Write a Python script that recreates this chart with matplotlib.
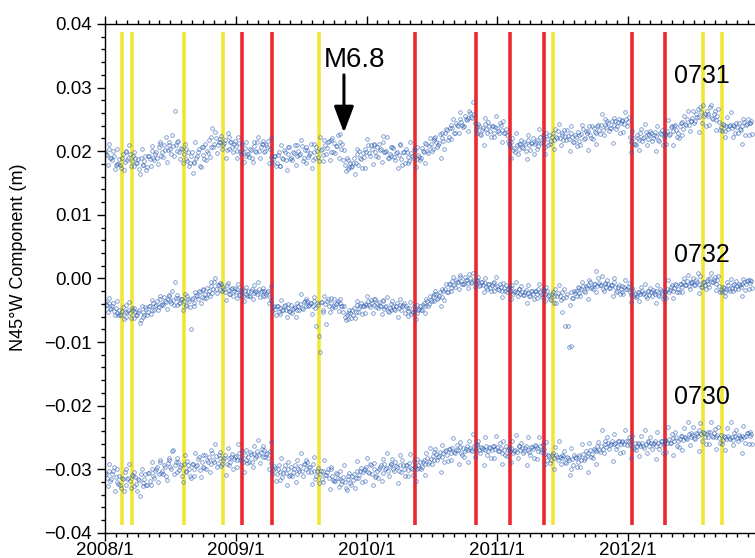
import numpy as np
import matplotlib
matplotlib.use('Agg')
import matplotlib.pyplot as plt
from matplotlib.ticker import FixedLocator, FuncFormatter, MultipleLocator

plt.rcParams['font.family'] = ['Liberation Sans', 'DejaVu Sans']

# GPS solutions, every 5 days from 2008/1 (values in mm)
sta_0731 = [
    19.9, 19.4, 20.3, 19.0, 18.6, 19.3, 17.9, 18.0, 18.8, 17.4, 19.5, 18.3, 19.9, 19.0,
    19.6, 18.4, 17.6, 19.0, 18.1, 17.2, 18.9, 17.8, 18.5, 17.1, 19.3, 18.7, 20.1, 18.9, 19.6,
    19.0, 20.7, 21.5, 19.8, 20.9, 22.3, 20.2, 21.0, 19.6, 20.8, 26.3, 20.1, 21.6, 18.8, 20.4,
    19.5, 20.3, 18.4, 17.6, 19.2, 16.5, 18.3, 18.9, 19.8, 17.7, 20.6, 19.4, 21.2, 20.0,
    21.8, 20.6, 23.6, 21.2, 22.0, 20.9, 21.5, 22.4, 21.0, 21.7, 20.2, 22.3, 21.4, 20.6, 21.2,
    # 2009
    20.8, 20.1, 21.3, 19.6, 19.9, 20.5, 19.2, 19.5, 20.4, 19.0, 20.8, 20.1, 21.4, 20.0,
    20.6, 21.2, 19.9, 20.9, 21.6, 20.3, 19.1, 18.7, 19.3, 18.2, 19.8, 17.7, 19.0, 20.2, 18.6,
    19.5, 20.6, 18.9, 19.8, 21.0, 19.2, 20.1, 19.6, 20.8, 19.0, 18.1, 20.2, 19.4, 21.1, 18.6,
    19.8, 20.7, 19.1, 22.2, 20.3, 19.4, 20.9, 20.5, 21.6, 19.8, 22.0, 21.3, 20.8, 22.6,
    21.5, 20.3, 18.6, 17.8, 19.0, 17.2, 18.1, 17.6, 18.9, 18.2, 19.6, 20.1, 18.8, 19.7, 20.3,
    # 2010
    19.8, 20.9, 19.3, 20.4, 21.0, 19.9, 20.6, 21.2, 20.3, 22.4, 19.8, 20.1, 18.9, 19.6,
    19.2, 20.5, 18.6, 19.9, 19.4, 21.0, 17.8, 19.8, 20.3, 19.1, 18.4, 19.7, 19.0, 20.2, 18.8,
    19.4, 18.6, 20.5, 19.9, 21.3, 20.1, 20.8, 21.2, 20.4, 22.0, 21.5, 20.9, 22.7, 22.1, 21.6,
    22.8, 23.4, 22.3, 24.1, 23.6, 22.9, 24.5, 24.0, 25.1, 24.6, 23.8, 25.6, 24.9, 25.3,
    26.0, 25.2, 25.8, 23.4, 22.8, 23.9, 22.6, 23.7, 24.3, 23.5, 24.6, 23.2, 24.0, 22.9, 23.8,
    # 2011
    23.6, 22.8, 24.1, 23.3, 22.9, 23.5, 21.6, 20.8, 21.4, 20.2, 19.9, 21.0, 20.4, 21.2,
    20.6, 21.5, 20.1, 21.8, 20.9, 21.3, 22.0, 21.1, 21.7, 20.8, 22.3, 21.4, 22.0, 20.6, 21.9,
    22.5, 21.6, 22.9, 21.8, 22.3, 23.1, 22.0, 22.6, 21.7, 22.4, 23.3, 21.9, 22.8, 22.2, 21.5,
    22.3, 23.0, 21.6, 22.7, 23.5, 22.1, 22.9, 23.2, 22.5, 24.0, 23.6, 22.8, 23.9, 23.3,
    24.1, 23.4, 25.0, 23.8, 24.5, 23.6, 24.7, 24.2, 24.8, 24.0, 25.1, 24.4, 24.9, 24.3, 25.0,
    # 2012
    24.6, 22.3, 21.5, 22.0, 21.2, 22.6, 21.8, 22.9, 21.6, 22.3, 23.0, 21.9, 22.5, 22.8,
    22.1, 23.0, 22.4, 21.7, 22.8, 23.3, 22.2, 22.6, 23.1, 22.5, 23.8, 23.2, 24.0, 23.4, 22.9,
    23.9, 24.6, 23.5, 24.3, 25.0, 24.1, 24.8, 25.2, 24.5, 25.9, 26.6, 25.4, 26.1, 27.2, 25.8,
    26.4, 25.6, 26.9, 25.2, 25.8, 24.9, 25.5, 24.6, 23.8, 24.3, 23.2, 24.0, 23.5, 24.1,
    23.6, 24.2, 22.9, 23.8, 24.5, 23.3, 24.0, 24.6, 24.2, 25.0, 24.4, 24.8,
]
# solutions in between (2.5 days later)
sta_0731_b = [
    19.6, 17.9, 21.1, 18.9, 20.1, 17.2, 20.4, 18.0, 17.8, 18.9, 17.0, 20.1, 18.6, 20.9,
    17.6, 19.3, 19.8, 18.2, 18.8, 16.4, 20.3, 17.9, 19.2, 17.5, 19.3, 17.6, 20.8, 18.6, 19.8,
    18.0, 21.2, 19.3, 19.1, 20.2, 18.3, 21.4, 20.3, 22.6, 19.3, 21.0, 21.5, 19.9, 20.5, 18.1,
    21.1, 18.7, 19.8, 18.1, 19.9, 18.2, 21.4, 19.2, 20.4, 17.5, 20.7, 18.8, 18.6, 19.7,
    19.1, 22.2, 20.7, 23.0, 19.7, 21.4, 21.9, 20.3, 21.3, 18.9, 22.8, 20.4, 21.5, 19.8, 21.6,
    # 2009
    19.0, 22.2, 20.0, 21.2, 18.3, 21.5, 19.6, 19.1, 20.2, 18.3, 21.4, 19.9, 22.2, 18.9,
    21.1, 21.6, 20.0, 20.6, 18.2, 22.1, 18.2, 19.3, 17.6, 19.4, 17.7, 20.9, 18.7, 19.9, 17.0,
    20.7, 18.8, 18.6, 19.7, 17.8, 20.9, 19.4, 21.8, 18.5, 20.2, 20.7, 19.1, 19.7, 17.3, 21.2,
    19.0, 20.1, 18.4, 20.2, 18.5, 21.7, 19.5, 21.5, 18.6, 21.8, 19.9, 19.7, 20.8, 18.9,
    22.7, 21.2, 20.2, 16.9, 18.6, 17.5, 17.5, 18.1, 16.4, 20.3, 17.9, 19.0, 17.3, 19.1, 17.4,
    # 2010
    21.9, 19.7, 20.9, 18.0, 21.2, 19.3, 19.1, 20.2, 18.3, 21.4, 19.9, 22.2, 18.9, 20.6,
    20.7, 19.1, 19.7, 17.3, 21.2, 18.8, 19.9, 18.2, 19.9, 18.2, 21.4, 19.2, 20.4, 17.5, 20.7,
    19.1, 18.9, 20.0, 18.1, 21.2, 19.7, 22.0, 20.1, 21.8, 22.3, 20.7, 21.3, 18.9, 22.8, 20.4,
    23.5, 21.8, 23.6, 21.9, 25.1, 22.9, 24.1, 22.9, 26.1, 24.2, 24.0, 25.1, 23.2, 26.3,
    25.4, 27.7, 24.4, 23.8, 24.3, 22.7, 23.3, 20.9, 25.2, 22.8, 23.9, 22.2, 24.0, 22.3, 25.5,
    # 2011
    23.2, 24.4, 21.5, 24.7, 22.8, 22.6, 21.2, 18.9, 22.0, 20.5, 22.8, 19.5, 21.2, 21.7,
    20.5, 21.1, 18.7, 22.6, 20.2, 21.3, 19.6, 21.4, 20.3, 23.5, 21.3, 22.5, 19.6, 22.8, 20.9,
    21.2, 22.3, 20.4, 23.5, 22.0, 24.3, 21.0, 22.9, 23.4, 21.8, 22.4, 20.0, 23.9, 21.5, 22.6,
    20.8, 22.6, 20.9, 24.1, 21.9, 23.1, 20.2, 24.0, 22.1, 21.9, 23.0, 21.1, 24.2, 22.7,
    25.8, 22.5, 24.2, 24.7, 23.1, 23.7, 21.3, 25.2, 23.5, 24.6, 22.9, 24.7, 23.0, 26.2, 24.0,
    # 2012
    25.4, 19.9, 23.1, 21.2, 21.0, 22.1, 20.2, 23.5, 22.0, 24.3, 21.0, 22.7, 23.2, 21.6,
    22.5, 20.1, 24.0, 21.6, 22.7, 21.0, 22.8, 21.1, 24.9, 22.7, 23.9, 21.0, 24.2, 22.3, 22.1,
    24.4, 22.5, 25.6, 24.1, 26.4, 23.1, 24.8, 26.4, 24.8, 25.4, 23.0, 26.9, 24.5, 25.6, 23.9,
    25.8, 24.1, 27.3, 25.1, 26.3, 23.4, 26.6, 23.3, 23.1, 24.2, 22.3, 25.4, 23.9, 26.2,
    22.3, 24.0, 24.5, 22.9, 23.5, 21.1, 25.0, 22.6, 24.3, 22.6, 24.4, 22.7,
]

sta_0732 = [
    -3.6, -4.2, -3.9, -4.8, -4.3, -5.1, -4.6, -5.4, -4.9, -5.8, -4.5, -5.3, -6.0, -5.0,
    -5.5, -4.7, -6.2, -5.3, -5.8, -4.9, -6.6, -5.2, -5.7, -4.8, -5.2, -4.4, -4.9, -3.8, -4.3,
    -3.6, -4.5, -3.2, -4.0, -2.9, -3.7, -3.3, -2.8, -3.9, -3.4, -0.5, -4.1, -3.0, -3.8, -3.2,
    -3.5, -4.4, -2.7, -3.6, -8.0, -3.1, -3.9, -2.6, -3.3, -2.2, -2.9, -1.8, -2.5, -1.5,
    -1.9, -1.2, -2.3, -0.6, -1.6, -1.0, -1.8, -0.9, -1.4, -2.1, -1.1, -1.8, -2.4, -1.5, -2.0,
    # 2009
    -2.2, -1.6, -2.6, -2.0, -2.8, -1.9, -2.4, -2.0, -2.7, -1.7, -2.3, -1.9, -2.5, -1.6,
    -2.1, -2.8, -1.9, -2.4, -2.0, -2.9, -3.6, -4.5, -4.8, -4.3, -5.2, -4.6, -5.0, -4.4, -4.9,
    -4.7, -5.1, -4.2, -4.8, -4.5, -5.0, -4.3, -4.0, -4.6, -3.7, -4.3, -3.5, -4.1, -3.8, -4.4,
    -3.6, -7.4, -4.2, -11.5, -3.7, -5.3, -4.0, -3.5, -4.3, -3.8, -4.6, -3.2, -4.0, -3.6,
    -3.9, -4.4, -5.3, -6.1, -5.7, -6.4, -5.5, -5.0, -4.6, -5.2, -4.1, -4.7, -3.9, -4.4, -4.0,
    # 2010
    -4.2, -3.6, -4.5, -3.8, -4.1, -3.3, -3.9, -3.7, -4.3, -3.5, -4.8, -4.4, -5.1, -4.6,
    -5.0, -4.4, -4.9, -3.9, -4.6, -4.1, -4.4, -3.8, -4.3, -5.1, -4.7, -5.6, -5.2, -4.8, -5.4,
    -4.9, -4.3, -5.0, -3.8, -4.4, -3.6, -4.0, -3.4, -2.8, -3.6, -2.5, -3.0, -2.2, -2.9, -1.9,
    -1.6, -2.2, -0.9, -1.5, -0.4, -1.1, -0.2, -0.6, 0.2, -0.4, -0.9, 0.3, -0.3, -0.7,
    0.1, -0.5, -0.2, -0.9, -0.4, -1.2, -0.6, -1.0, -0.7, -1.3, -0.8, -1.5, -1.1, -0.6, -1.4,
    # 2011
    -1.2, -1.8, -1.4, -2.0, -1.5, -1.1, -1.7, -2.0, -1.5, -2.4, -1.9, -2.2, -1.6, -2.5,
    -2.1, -2.6, -1.8, -2.3, -2.7, -1.9, -2.4, -2.0, -2.5, -1.7, -2.2, -2.9, -1.8, -2.4, -2.0,
    -2.6, -3.4, -2.1, -2.8, -3.9, -2.3, -2.7, -5.2, -3.0, -7.5, -2.4, -10.8, -2.2, -3.1, -1.9,
    -2.0, -1.4, -2.3, -1.6, -1.2, -2.1, -1.5, -1.1, -0.6, -1.4, -0.8, 1.1, -1.2, -0.7,
    -1.0, -1.6, -0.8, -1.3, -0.9, -1.5, -1.1, -0.6, -1.3, -1.9, -1.0, -1.6, -2.2, -1.4, -1.7,
    # 2012
    -1.4, -2.1, -2.6, -1.9, -2.4, -2.8, -2.2, -2.5, -1.9, -2.3, -2.7, -2.0, -2.6, -2.2,
    -1.8, -2.4, -2.0, -2.6, -1.7, -2.3, -2.9, -2.1, -1.6, -2.2, -1.3, -1.9, -1.5, -1.1, -1.7,
    -0.9, -1.4, -0.6, -1.0, -0.4, -1.2, -0.7, -0.5, -1.1, -0.3, 0.9, -0.8, -1.4, -0.6, -1.0,
    -0.4, -0.9, 0.1, -0.5, -0.2, -0.8, -0.3, -1.2, -1.8, -1.4, -2.1, -1.6, -1.1, -1.9,
    -1.5, -1.0, -1.7, -1.2, -0.8, -1.4, -0.9, -0.6, -0.8, -0.3, -0.7, -0.4,
]
sta_0732_b = [
    -4.1, -5.3, -3.1, -4.6, -3.8, -5.8, -3.6, -5.7, -5.8, -5.1, -6.4, -4.2, -5.3, -3.7,
    -6.2, -5.0, -4.6, -5.8, -5.3, -7.0, -4.3, -6.0, -4.5, -5.7, -4.4, -5.6, -3.4, -4.9, -4.1,
    -5.0, -2.8, -4.1, -4.2, -3.5, -4.8, -2.6, -3.5, -1.9, -4.2, -3.0, -2.6, -3.8, -3.3, -5.0,
    -2.4, -4.1, -3.3, -4.5, -3.2, -4.4, -2.2, -2.7, -1.9, -3.9, -1.7, -3.0, -3.1, -2.4,
    -2.7, -0.5, -1.6, 0.0, -2.3, -1.1, -0.7, -1.9, -1.7, -3.4, -0.7, -2.4, -1.6, -2.8, -1.5,
    # 2009
    -3.1, -0.9, -2.4, -1.6, -3.6, -1.4, -2.7, -2.7, -2.0, -3.3, -1.1, -2.2, -0.6, -2.9,
    -1.9, -1.5, -2.7, -2.2, -3.9, -1.2, -5.1, -4.3, -5.7, -4.4, -5.6, -3.4, -4.9, -4.1, -6.1,
    -4.0, -5.3, -5.4, -4.7, -6.0, -3.8, -4.9, -2.5, -4.8, -3.6, -3.2, -4.4, -3.9, -5.6, -2.9,
    -4.6, -3.8, -9.0, -3.7, -4.9, -2.7, -7.2, -3.3, -5.3, -3.1, -4.4, -4.5, -3.8, -5.1,
    -3.2, -4.3, -4.3, -6.6, -5.4, -5.0, -6.2, -5.7, -6.2, -3.5, -5.2, -4.4, -5.6, -4.3, -5.5,
    # 2010
    -2.7, -4.2, -3.4, -5.4, -3.2, -4.5, -4.6, -4.3, -5.6, -3.4, -4.5, -2.9, -5.2, -4.0,
    -3.6, -4.8, -4.3, -6.0, -3.3, -5.0, -4.2, -5.4, -4.7, -5.9, -3.7, -5.2, -4.4, -6.4, -4.2,
    -4.8, -4.9, -4.2, -5.5, -3.3, -4.4, -2.8, -3.6, -2.4, -2.0, -3.2, -2.7, -4.4, -1.7, -3.4,
    -0.9, -2.1, -0.8, -2.0, 0.2, -1.3, -0.5, -1.7, 0.5, -0.8, -0.9, -0.2, -1.5, 0.7,
    -0.7, 0.9, -1.4, -0.2, 0.2, -1.0, -0.5, -2.2, 0.1, -1.6, -0.8, -2.0, -0.7, -1.9, 0.3,
    # 2011
    -1.7, -0.9, -2.9, -0.7, -2.0, -2.1, -1.4, -3.2, -1.0, -2.1, -0.5, -2.8, -1.6, -1.2,
    -2.6, -2.1, -3.8, -1.1, -2.8, -2.0, -3.2, -1.9, -3.1, -0.9, -2.4, -1.6, -3.6, -1.4, -2.7,
    -3.2, -2.5, -3.8, -1.6, -2.7, -1.1, -3.4, -2.1, -1.7, -2.9, -7.5, -4.1, -10.6, -3.1, -2.3,
    -2.8, -1.5, -2.7, -0.5, -2.0, -1.2, -3.2, -0.2, -1.5, -1.6, -0.9, -2.2, 0.0, -1.1,
    0.4, -1.9, -0.7, -0.3, -1.5, -1.0, -2.7, 0.0, -2.1, -1.3, -2.5, -1.2, -2.4, -0.2, -1.7,
    # 2012
    -0.7, -3.7, -1.5, -2.8, -2.9, -2.2, -3.5, -1.3, -2.4, -0.8, -3.1, -1.9, -1.5, -2.7,
    -2.1, -3.8, -1.1, -2.8, -2.0, -3.2, -1.9, -3.1, -0.3, -1.8, -1.0, -3.0, -0.8, -2.1, -2.2,
    -0.8, -2.1, 0.1, -1.0, 0.6, -1.7, -0.5, 0.1, -1.1, -0.6, -2.3, 0.4, -1.3, -0.5, -1.7,
    -0.1, -1.3, 0.9, -0.6, 0.2, -1.8, 0.4, -2.1, -2.2, -1.5, -2.8, -0.6, -1.7, -0.1,
    -2.0, -0.8, -0.4, -1.6, -1.1, -2.8, -0.1, -1.8, -0.4, -1.6, -0.3, -1.5,
]

sta_0730 = [
    -30.6, -31.4, -30.2, -31.9, -30.8, -29.7, -31.2, -32.0, -31.1, -33.0, -31.6, -30.4, -32.5, -31.3,
    -31.8, -30.9, -32.6, -31.2, -33.4, -31.7, -30.8, -32.2, -31.5, -32.4, -30.6, -31.9, -29.9, -31.0, -30.3,
    -29.7, -30.8, -28.9, -30.2, -29.4, -31.1, -29.0, -28.6, -29.9, -27.0, -29.4, -30.5, -28.8, -29.7, -31.0,
    -29.2, -30.3, -28.7, -29.9, -31.4, -29.1, -30.0, -29.5, -28.4, -30.1, -28.9, -29.7, -27.8, -28.6,
    -28.1, -29.2, -27.5, -28.8, -27.9, -29.0, -28.3, -29.5, -28.6, -27.7, -29.1, -28.2, -28.9, -27.6, -28.4,
    # 2009
    -27.9, -28.6, -27.4, -28.3, -28.9, -27.7, -28.5, -28.0, -27.3, -28.8, -27.6, -28.2, -27.1, -27.8,
    -27.4, -28.1, -26.9, -27.6, -28.3, -27.2, -29.0, -30.1, -29.8, -30.7, -29.3, -30.4, -31.2, -29.9, -30.6,
    -30.0, -31.0, -29.6, -30.5, -29.3, -30.8, -29.9, -29.5, -30.3, -29.1, -30.0, -28.8, -29.7, -30.4, -29.2,
    -30.2, -31.1, -29.8, -30.7, -31.5, -30.3, -30.9, -30.5, -31.3, -30.0, -31.0, -31.8, -30.6, -31.4,
    -31.6, -32.3, -31.2, -32.0, -33.2, -31.5, -32.1, -31.0, -30.7, -31.4, -30.3, -30.9, -29.8, -30.5, -29.9,
    # 2010
    -29.6, -30.4, -29.2, -30.8, -29.9, -31.2, -30.3, -30.0, -29.4, -30.6, -29.1, -29.8, -30.3, -29.5,
    -29.2, -30.0, -28.8, -29.6, -30.3, -29.4, -28.6, -29.9, -29.3, -30.1, -29.0, -29.8, -30.9, -29.5, -29.9,
    -29.4, -28.8, -29.7, -28.5, -29.1, -28.2, -28.9, -28.4, -27.9, -28.6, -27.6, -28.1, -27.3, -28.0, -27.5,
    -27.1, -27.8, -26.8, -27.5, -26.6, -27.3, -26.9, -27.0, -26.5, -27.4, -26.7, -27.2, -26.3, -26.9,
    -26.6, -27.1, -26.4, -26.9, -26.2, -27.0, -26.5, -26.8, -26.9, -26.4, -27.2, -26.6, -27.0, -26.3, -26.8,
    # 2011
    -26.5, -27.1, -26.7, -27.4, -26.9, -26.3, -27.0, -27.2, -26.6, -27.5, -26.9, -27.3, -26.4, -27.0,
    -26.7, -27.2, -26.4, -26.9, -27.3, -26.5, -26.8, -26.2, -26.6, -27.1, -26.4, -27.0, -26.8, -27.6, -28.5,
    -27.9, -28.6, -27.5, -28.2, -27.8, -28.5, -28.0, -28.3, -27.9, -28.8, -28.1, -28.6, -29.9, -28.4, -27.7,
    -28.2, -28.8, -28.0, -28.5, -27.6, -28.3, -27.9, -27.4, -26.9, -27.6, -26.8, -27.2, -26.4, -26.9,
    -26.3, -26.8, -26.0, -26.5, -25.8, -26.2, -25.6, -26.0, -25.8, -26.3, -25.6, -26.1, -25.7, -26.0, -25.5,
    # 2012
    -25.6, -26.2, -25.4, -26.5, -25.9, -26.3, -26.0, -26.4, -25.8, -26.7, -26.1, -25.7, -26.3, -25.9,
    -26.1, -25.5, -26.4, -25.8, -26.2, -25.6, -26.0, -25.4, -25.8, -25.3, -25.9, -25.1, -25.6, -25.0, -25.5,
    -25.2, -24.7, -25.4, -24.9, -25.3, -24.5, -25.0, -24.6, -25.1, -24.3, -24.8, -23.9, -24.5, -24.2, -24.9,
    -24.4, -24.9, -24.1, -24.7, -24.3, -25.0, -24.6, -25.1, -24.6, -25.4, -24.9, -25.3, -24.8, -25.2,
    -24.9, -25.4, -24.7, -25.1, -24.6, -25.3, -24.8, -25.0, -24.7, -24.3, -24.8, -24.5,
]
sta_0730_b = [
    -30.8, -32.6, -29.1, -31.5, -30.2, -33.4, -29.9, -32.3, -32.5, -31.3, -33.4, -30.0, -31.6, -29.1,
    -32.9, -31.0, -30.5, -32.3, -31.6, -34.2, -29.9, -32.6, -30.7, -32.5, -30.6, -32.4, -28.9, -31.3, -30.0,
    -32.0, -28.5, -30.6, -30.8, -29.6, -31.7, -28.3, -29.6, -27.1, -30.7, -28.8, -28.3, -30.1, -29.4, -32.0,
    -27.8, -30.5, -29.3, -31.1, -29.2, -31.0, -27.5, -29.3, -28.0, -31.2, -27.7, -29.8, -30.0, -28.8,
    -30.4, -27.0, -28.6, -26.1, -29.7, -27.8, -27.3, -29.1, -28.3, -30.9, -26.6, -29.3, -28.1, -29.9, -28.0,
    # 2009
    -29.6, -26.1, -28.5, -27.2, -30.4, -26.9, -29.0, -28.8, -27.6, -29.7, -26.3, -27.9, -25.4, -29.0,
    -26.8, -26.3, -28.1, -27.4, -30.0, -25.7, -30.7, -29.5, -31.8, -29.9, -31.7, -28.2, -30.6, -29.3, -32.5,
    -28.8, -30.9, -31.1, -29.9, -32.0, -28.6, -30.2, -27.4, -31.0, -29.1, -28.6, -30.4, -29.7, -32.3, -28.0,
    -31.5, -30.3, -32.1, -30.2, -32.0, -28.5, -30.9, -29.9, -33.1, -29.6, -31.7, -31.9, -30.7, -32.8,
    -30.3, -31.9, -29.4, -33.0, -31.1, -30.6, -32.4, -31.7, -33.0, -28.7, -31.4, -30.2, -32.0, -30.1, -31.9,
    # 2010
    -28.2, -30.6, -29.3, -32.5, -29.0, -31.1, -31.3, -29.7, -31.8, -28.4, -30.0, -27.5, -31.1, -29.2,
    -28.4, -30.2, -29.5, -32.1, -27.8, -30.5, -29.3, -31.1, -29.3, -31.1, -27.6, -30.0, -28.7, -31.9, -28.4,
    -29.8, -30.0, -28.8, -30.9, -27.5, -29.1, -26.6, -29.2, -27.3, -26.8, -28.6, -27.9, -30.5, -26.2, -28.9,
    -26.9, -28.7, -26.8, -28.6, -25.1, -27.5, -26.2, -29.2, -25.7, -27.8, -28.0, -26.8, -28.9, -25.5,
    -26.9, -24.4, -28.0, -26.1, -25.6, -27.4, -26.7, -29.3, -25.0, -27.7, -26.5, -28.3, -26.4, -28.2, -24.7,
    # 2011
    -27.2, -25.9, -29.1, -25.6, -27.7, -27.9, -26.7, -28.9, -25.5, -27.1, -24.6, -28.2, -26.3, -25.8,
    -27.4, -26.7, -29.3, -25.0, -27.7, -26.5, -28.3, -26.4, -28.4, -24.9, -27.3, -26.0, -29.2, -25.7, -27.8,
    -29.0, -27.8, -29.9, -26.5, -28.1, -25.6, -29.2, -27.7, -27.2, -29.0, -28.3, -30.9, -26.6, -29.3, -28.1,
    -29.7, -27.8, -29.6, -26.1, -28.5, -27.2, -30.4, -25.9, -28.0, -28.2, -27.0, -29.1, -25.7, -27.3,
    -23.8, -27.4, -25.5, -25.0, -26.8, -26.1, -28.7, -24.4, -26.8, -25.6, -27.4, -25.5, -27.3, -23.8, -26.2,
    # 2012
    -25.0, -28.2, -24.7, -26.8, -27.0, -25.8, -27.9, -24.7, -26.3, -23.8, -27.4, -25.5, -25.0, -26.8,
    -25.8, -28.4, -24.1, -26.8, -25.6, -27.4, -25.5, -27.3, -23.4, -25.8, -24.5, -27.7, -24.2, -26.3, -26.5,
    -24.8, -26.9, -23.5, -25.1, -22.6, -26.2, -24.3, -23.4, -25.2, -24.5, -27.1, -22.8, -25.5, -24.3, -26.1,
    -24.2, -26.0, -22.5, -24.9, -23.6, -26.8, -23.3, -25.8, -26.0, -24.8, -26.9, -23.5, -25.1, -22.6,
    -26.2, -24.3, -23.8, -25.6, -24.9, -27.5, -23.2, -25.9, -24.3, -26.1, -24.2, -26.0,
]

# event dates (decimal year)
yellow_events = [2008.132, 2008.209, 2008.602, 2008.902, 2009.634, 2011.427, 2012.572, 2012.719]
red_events = [2009.045, 2009.279, 2010.370, 2010.834, 2011.100, 2011.359, 2012.029, 2012.281]

quake_time = 2009.827
station_names = ['0731', '0732', '0730']
label_y = [0.0318, 0.0037, -0.0186]

fig = plt.figure(figsize=(7.55, 5.58), dpi=100)
ax = fig.add_axes([0.139, 0.045, 0.861, 0.912])

ax.vlines(yellow_events, -0.0387, 0.0387, colors='#f2e635', lw=2.6, zorder=1)
ax.vlines(red_events, -0.0387, 0.0387, colors='#ec2a2d', lw=2.6, zorder=1)

for vals, vals_b in [(sta_0731, sta_0731_b), (sta_0732, sta_0732_b), (sta_0730, sta_0730_b)]:
    t = 2008 + np.arange(len(vals)) * 5 / 365.25
    tb = 2008 + (np.arange(len(vals_b)) * 5 + 2.5) / 365.25
    ax.plot(np.concatenate([t, tb]), np.concatenate([vals, vals_b]) / 1000, 'o',
            ms=2.6, mfc='none', mec='#2a5bb0', mew=0.55, alpha=0.7, zorder=2)

for name, y in zip(station_names, label_y):
    ax.text(2012.564, y, name, fontsize=18, ha='center', va='center')

ax.text(2009.911, 0.0343, 'M6.8', fontsize=20, ha='center', va='center')
ax.annotate('', xy=(quake_time, 0.0229), xytext=(quake_time, 0.0320),
            arrowprops=dict(arrowstyle='-|>,head_width=0.3,head_length=0.8',
                            lw=2.2, color='k', mutation_scale=20, shrinkA=0, shrinkB=0))

ax.set_xlim(2008.0, 2008 + 650 / 130.8)
ax.set_ylim(-0.04, 0.04)

years = [2008, 2009, 2010, 2011, 2012]
ax.xaxis.set_major_locator(FixedLocator(years))
ax.set_xticklabels([f'{y}/1' for y in years])
ax.xaxis.set_minor_locator(MultipleLocator(1 / 12))
ax.yaxis.set_major_locator(MultipleLocator(0.01))
ax.yaxis.set_minor_locator(MultipleLocator(0.002))
ax.yaxis.set_major_formatter(FuncFormatter(
    lambda v, p: f'{abs(v):.2f}' if abs(v) < 1e-9 else f'{v:.2f}'.replace('-', '\u2212')))

ax.tick_params(which='both', direction='out', top=True, labelsize=13.5, width=1.0)
ax.tick_params(which='major', length=6)
ax.tick_params(which='minor', length=3)
ax.tick_params(axis='x', pad=0.5)
ax.spines['right'].set_visible(False)
for s in ['left', 'top', 'bottom']:
    ax.spines[s].set_linewidth(1.0)

ax.set_ylabel('N45\u00b0W Component (m)', fontsize=13)
ax.yaxis.set_label_coords(-0.120, 0.542)

fig.savefig('out.png', dpi=100)
